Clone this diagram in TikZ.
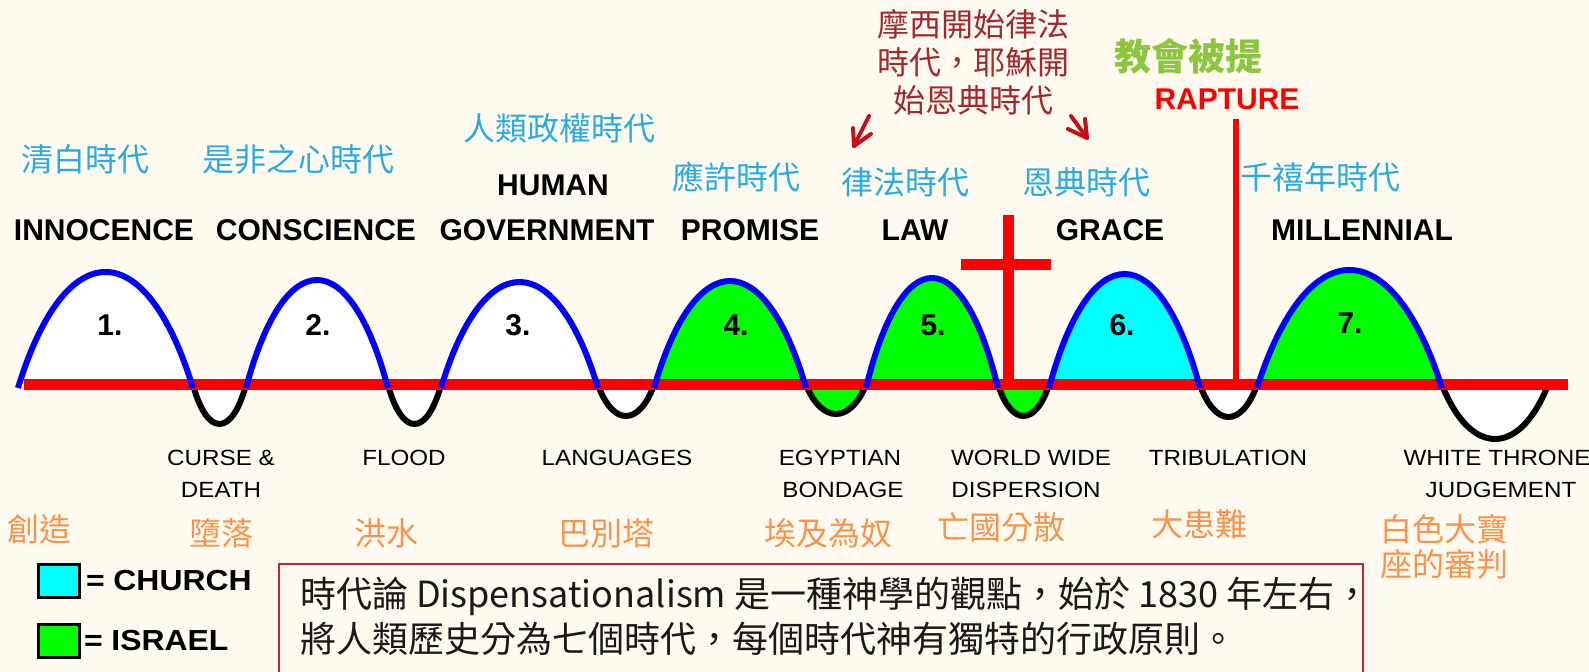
\documentclass[tikz,border=0pt]{standalone}
\usepackage{fontspec}
\newfontfamily\cjk{Noto Sans CJK TC}
\newfontfamily\labfont{Liberation Sans}
\newfontfamily\pixfont[FakeStretch=1.1]{Liberation Sans}
\definecolor{bg}{HTML}{FFFAEF}
\definecolor{skyb}{HTML}{29ABE2}
\definecolor{orng}{HTML}{F7934C}
\definecolor{dred}{HTML}{A3282E}
\definecolor{lgreen}{HTML}{8CC63F}
\definecolor{boxred}{HTML}{C1272D}
\definecolor{arrred}{HTML}{C4101A}
\definecolor{hgreen}{HTML}{00FF00}
\definecolor{hcyan}{HTML}{00FFFF}
\definecolor{hblue}{HTML}{0000FF}
\definecolor{pred}{HTML}{FF0000}
\begin{document}
\begin{tikzpicture}[x=0.5pt,y=-0.5pt,
  every node/.style={inner sep=0pt, outer sep=0pt},
  bluecjk/.style={text=skyb, font=\cjk\fontsize{16}{19}\selectfont},
  orangecjk/.style={text=orng, font=\cjk\fontsize{16}{19}\selectfont},
  redcjk/.style={text=dred, font=\cjk\fontsize{16}{19}\selectfont},
  biglab/.style={text=black, font=\labfont\bfseries\fontsize{15}{18}\selectfont},
  numlab/.style={text=black, font=\labfont\bfseries\fontsize{15}{18}\selectfont},
  smalllab/.style={text=black, font=\pixfont\fontsize{11}{13}\selectfont},
  leglab/.style={text=black, anchor=west, font=\pixfont\bfseries\fontsize{14.5}{17}\selectfont},
  desc/.style={text=black!90, anchor=west, font=\cjk\fontsize{18}{21}\selectfont},
  humpline/.style={draw=hblue, line width=3pt},
  dipline/.style={draw=black, line width=3pt},
  arrowline/.style={draw=arrred, line width=2pt, line cap=round, line join=round}
]
\useasboundingbox (0,0) rectangle (1589,672);
\fill[bg] (0,0) rectangle (1589,672);

% fills of humps
\foreach \a/\b/\p/\c in {18/193/272/white, 246/388/280/white, 441/598/282/white,
  654/806/281/hgreen, 866/998/278/hgreen, 1049/1200/274/hcyan, 1257/1442/270/hgreen}{
  \fill[fill=\c] (\a,385) .. controls ({\a+0.27*(\b-\a)},{385-(4/3)*(385-\p)}) and ({\b-0.27*(\b-\a)},{385-(4/3)*(385-\p)}) .. (\b,385) -- cycle;
}
% fills of dips
\foreach \a/\b/\p/\c in {193/246/424/white, 388/441/424/white, 598/654/416/white,
  806/866/414/hgreen, 998/1049/416/hgreen, 1200/1257/417/white, 1442/1548/439/white}{
  \fill[fill=\c] (\a,385) .. controls ({\a+0.27*(\b-\a)},{385+(4/3)*(\p-385)}) and ({\b-0.27*(\b-\a)},{385+(4/3)*(\p-385)}) .. (\b,385) -- cycle;
}
% dip outlines
\foreach \a/\b/\p in {193/246/424, 388/441/424, 598/654/416,
  806/866/414, 998/1049/416, 1200/1257/417, 1442/1548/439}{
  \draw[dipline] (\a,385) .. controls ({\a+0.27*(\b-\a)},{385+(4/3)*(\p-385)}) and ({\b-0.27*(\b-\a)},{385+(4/3)*(\p-385)}) .. (\b,385);
}
% red baseline
\draw[pred, line width=5.5pt] (24,385) -- (1568,385);
% hump outlines
\foreach \a/\b/\p in {18/193/272, 246/388/280, 441/598/282,
  654/806/281, 866/998/278, 1049/1200/274, 1257/1442/270}{
  \draw[humpline] (\a,388) .. controls ({\a+0.27*(\b-\a)},{388-(4/3)*(388-\p)}) and ({\b-0.27*(\b-\a)},{388-(4/3)*(388-\p)}) .. (\b,388);
}
% cross
\draw[pred, line width=5.5pt] (1008,215) -- (1008,386);
\draw[pred, line width=5.5pt] (961,265) -- (1051,265);
% rapture line
\draw[pred, line width=3pt] (1236,119) -- (1236,386);

% numbers
\node[numlab] (n1) at (110,325) {1.};
\node[numlab] (n2) at (318,325) {2.};
\node[numlab] (n3) at (518,325) {3.};
\node[numlab] (n4) at (736,325) {4.};
\node[numlab] (n5) at (933,325) {5.};
\node[numlab] (n6) at (1122,325) {6.};
\node[numlab] (n7) at (1350,323) {7.};

% blue Chinese labels
\node[bluecjk] (c1) at (85,159) {清白時代};
\node[bluecjk] (c2) at (298,159) {是非之心時代};
\node[bluecjk] (c3) at (559,128) {人類政權時代};
\node[bluecjk] (c4) at (736,177) {應許時代};
\node[bluecjk] (c5) at (905,182) {律法時代};
\node[bluecjk] (c6) at (1086,182) {恩典時代};
\node[bluecjk] (c7) at (1320,177) {千禧年時代};

% English era labels
\node[biglab] (e1) at (104,230) {INNOCENCE};
\node[biglab] (e2) at (316,230) {CONSCIENCE};
\node[biglab] (e3a) at (553,185) {HUMAN};
\node[biglab] (e3) at (547,230) {GOVERNMENT};
\node[biglab] (e4) at (750,230) {PROMISE};
\node[biglab] (e5) at (915,230) {LAW};
\node[biglab] (e6) at (1110,230) {GRACE};
\node[biglab] (e7) at (1362,230) {MILLENNIAL};

% judgement labels
\node[smalllab] (j1a) at (221,458) {CURSE \&};
\node[smalllab] (j1b) at (221,490) {DEATH};
\node[smalllab] (j2) at (404,458) {FLOOD};
\node[smalllab] (j3) at (617,458) {LANGUAGES};
\node[smalllab] (j4a) at (840,458) {EGYPTIAN};
\node[smalllab] (j4b) at (843,490) {BONDAGE};
\node[smalllab] (j5a) at (1031,458) {WORLD WIDE};
\node[smalllab] (j5b) at (1026,490) {DISPERSION};
\node[smalllab] (j6) at (1228,458) {TRIBULATION};
\node[smalllab] (j7a) at (1497,458) {WHITE THRONE};
\node[smalllab] (j7b) at (1501,490) {JUDGEMENT};

% orange Chinese labels
\node[orangecjk] (o0) at (39,529) {創造};
\node[orangecjk] (o1) at (221,533) {墮落};
\node[orangecjk] (o2) at (386,533) {洪水};
\node[orangecjk] (o3) at (606,533) {巴別塔};
\node[orangecjk] (o4) at (828,533) {埃及為奴};
\node[orangecjk] (o5) at (1001,527) {亡國分散};
\node[orangecjk] (o6) at (1199,524) {大患難};
\node[orangecjk] (o7a) at (1444,529) {白色大寶};
\node[orangecjk] (o7b) at (1444,564) {座的審判};

% top annotations
\node[redcjk] (t1) at (973,24) {摩西開始律法};
\node[redcjk] (t2) at (973,62) {時代，耶穌開};
\node[redcjk] (t3) at (973,100) {始恩典時代};
\node[text=lgreen, font=\cjk\bfseries\fontsize{18.5}{22}\selectfont] (rc) at (1188,56) {教會被提};
\node[text=pred, font=\labfont\bfseries\fontsize{15}{18}\selectfont] (rap) at (1227,99) {RAPTURE};

% small arrows
\coordinate (a1s) at (869,116); \coordinate (a1t) at (854,146);
\draw[arrowline] (a1s) -- (a1t);
\draw[arrowline] (853,128) -- (a1t) -- (871,134);
\coordinate (a2s) at (1071,116); \coordinate (a2t) at (1087,138);
\draw[arrowline] (a2s) -- (a2t);
\draw[arrowline] (1085,119) -- (a2t) -- (1068,129);

% legend
\draw[line width=1.5pt, fill=hcyan] (38,565) rectangle (79,598);
\node[leglab] (lc) at (86,581) {= CHURCH};
\draw[line width=1.5pt, fill=hgreen] (38,625) rectangle (79,658);
\node[leglab] (li) at (84,641) {= ISRAEL};

% description box
\draw[boxred, line width=1pt] (279,672) -- (279,564) -- (1363,564) -- (1363,672);
\node[desc] (d1) at (300,596) {時代論 Dispensationalism 是一種神學的觀點，始於 1830 年左右，};
\node[desc] (d2) at (300,639) {將人類歷史分為七個時代，每個時代神有獨特的行政原則。};
\end{tikzpicture}
\end{document}
